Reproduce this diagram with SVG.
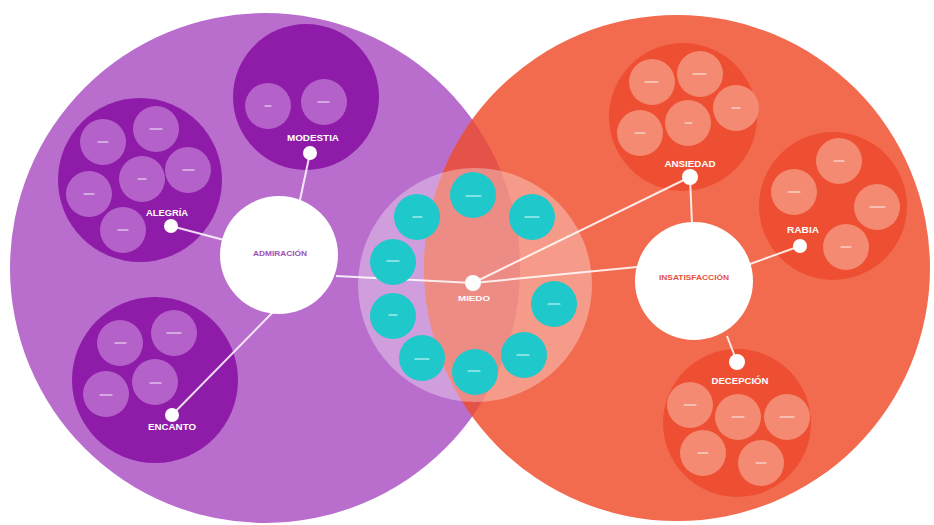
<svg xmlns="http://www.w3.org/2000/svg" width="934" height="525" viewBox="0 0 934 525">
<style>
.pbig{fill:#b96ecd}
.obig{fill:#f26b4f}
.pcl{fill:#8f1ca9}
.psm{fill:#b462c9}
.ocl{fill:#ee4f32}
.osm{fill:#f38a71}
.teal{fill:#1ec8cb}
.mk{stroke:#ffffff;stroke-width:1.1;stroke-opacity:0.9;stroke-linecap:round}
.dot{fill:#ffffff}
.lbl{fill:#ffffff;font-family:"Liberation Sans",Arial,sans-serif;font-weight:bold;font-size:9px;text-anchor:middle}
.hub{fill:#ffffff}
.conn{stroke:#ffffff;stroke-width:2;stroke-opacity:0.85;fill:none}
</style>
<defs>
<clipPath id="clipP"><circle cx="265" cy="268" r="255"/></clipPath>
</defs>
<rect width="934" height="525" fill="#ffffff"/>
<g id="backgrounds">
<circle class="pbig" cx="265" cy="268" r="255"/>
<circle class="obig" cx="677" cy="268" r="253"/>
<circle cx="677" cy="268" r="253" fill="#e4524a" clip-path="url(#clipP)"/>
<circle cx="475" cy="285" r="117" fill="#ffffff" fill-opacity="0.33"/>
</g>
<g id="alegria">
<circle class="pcl" cx="140" cy="180" r="82"/>
<circle class="psm" cx="103" cy="142" r="23"/>
<circle class="psm" cx="156" cy="129" r="23"/>
<circle class="psm" cx="142" cy="179" r="23"/>
<circle class="psm" cx="89" cy="194" r="23"/>
<circle class="psm" cx="188" cy="170" r="23"/>
<circle class="psm" cx="123" cy="230" r="23"/>
<line class="mk" x1="98" y1="142" x2="108" y2="142"/>
<line class="mk" x1="150" y1="129" x2="162" y2="129"/>
<line class="mk" x1="138" y1="179" x2="146" y2="179"/>
<line class="mk" x1="84" y1="194" x2="94" y2="194"/>
<line class="mk" x1="183" y1="170" x2="194" y2="170"/>
<line class="mk" x1="118" y1="230" x2="128" y2="230"/>
<circle class="dot" cx="171" cy="226" r="7"/>
<text class="lbl" x="167" y="216" textLength="42" lengthAdjust="spacingAndGlyphs">ALEGRÍA</text>
</g>
<g id="modestia">
<circle class="pcl" cx="306" cy="97" r="73"/>
<circle class="psm" cx="268" cy="106" r="23"/>
<circle class="psm" cx="324" cy="102" r="23"/>
<line class="mk" x1="265" y1="106" x2="271" y2="106"/>
<line class="mk" x1="318" y1="102" x2="329" y2="102"/>
<circle class="dot" cx="310" cy="153" r="7"/>
<text class="lbl" x="313" y="141" textLength="52" lengthAdjust="spacingAndGlyphs">MODESTIA</text>
</g>
<g id="encanto">
<circle class="pcl" cx="155" cy="380" r="83"/>
<circle class="psm" cx="120" cy="343" r="23"/>
<circle class="psm" cx="174" cy="333" r="23"/>
<circle class="psm" cx="106" cy="394" r="23"/>
<circle class="psm" cx="155" cy="382" r="23"/>
<line class="mk" x1="115" y1="343" x2="126" y2="343"/>
<line class="mk" x1="167" y1="333" x2="181" y2="333"/>
<line class="mk" x1="100" y1="395" x2="112" y2="395"/>
<line class="mk" x1="150" y1="383" x2="161" y2="383"/>
<circle class="dot" cx="172" cy="415" r="7"/>
<text class="lbl" x="172" y="430" textLength="48" lengthAdjust="spacingAndGlyphs">ENCANTO</text>
</g>
<g id="ansiedad">
<circle class="ocl" cx="683" cy="117" r="74"/>
<circle class="osm" cx="652" cy="82" r="23"/>
<circle class="osm" cx="700" cy="74" r="23"/>
<circle class="osm" cx="736" cy="108" r="23"/>
<circle class="osm" cx="688" cy="123" r="23"/>
<circle class="osm" cx="640" cy="133" r="23"/>
<line class="mk" x1="645" y1="82" x2="658" y2="82"/>
<line class="mk" x1="693" y1="74" x2="706" y2="74"/>
<line class="mk" x1="732" y1="108" x2="740" y2="108"/>
<line class="mk" x1="685" y1="123" x2="692" y2="123"/>
<line class="mk" x1="635" y1="133" x2="645" y2="133"/>
<circle class="dot" cx="690" cy="177" r="8"/>
<text class="lbl" x="690" y="167" textLength="51" lengthAdjust="spacingAndGlyphs">ANSIEDAD</text>
</g>
<g id="rabia">
<circle class="ocl" cx="833" cy="206" r="74"/>
<circle class="osm" cx="839" cy="161" r="23"/>
<circle class="osm" cx="794" cy="192" r="23"/>
<circle class="osm" cx="877" cy="207" r="23"/>
<circle class="osm" cx="846" cy="247" r="23"/>
<line class="mk" x1="834" y1="161" x2="844" y2="161"/>
<line class="mk" x1="788" y1="192" x2="800" y2="192"/>
<line class="mk" x1="870" y1="207" x2="885" y2="207"/>
<line class="mk" x1="841" y1="247" x2="851" y2="247"/>
<circle class="dot" cx="800" cy="246" r="7"/>
<text class="lbl" x="803" y="233" textLength="32" lengthAdjust="spacingAndGlyphs">RABIA</text>
</g>
<g id="decepcion">
<circle class="ocl" cx="737" cy="423" r="74"/>
<circle class="osm" cx="690" cy="405" r="23"/>
<circle class="osm" cx="738" cy="417" r="23"/>
<circle class="osm" cx="787" cy="417" r="23"/>
<circle class="osm" cx="703" cy="453" r="23"/>
<circle class="osm" cx="761" cy="463" r="23"/>
<line class="mk" x1="684" y1="405" x2="696" y2="405"/>
<line class="mk" x1="732" y1="417" x2="744" y2="417"/>
<line class="mk" x1="780" y1="417" x2="794" y2="417"/>
<line class="mk" x1="698" y1="453" x2="708" y2="453"/>
<line class="mk" x1="756" y1="463" x2="766" y2="463"/>
<circle class="dot" cx="737" cy="362" r="8"/>
<text class="lbl" x="740" y="384" textLength="57" lengthAdjust="spacingAndGlyphs">DECEPCIÓN</text>
</g>
<g id="connectors">
<line class="conn" x1="171" y1="226" x2="224" y2="240"/>
<line class="conn" x1="310" y1="153" x2="300" y2="200"/>
<line class="conn" x1="172" y1="415" x2="274" y2="311"/>
<line class="conn" x1="336" y1="276" x2="473" y2="283"/>
<line class="conn" x1="473" y1="283" x2="637" y2="267"/>
<line class="conn" x1="473" y1="283" x2="690" y2="177"/>
<line class="conn" x1="690" y1="177" x2="692" y2="224"/>
<line class="conn" x1="800" y1="246" x2="750" y2="264"/>
<line class="conn" x1="737" y1="362" x2="727" y2="336"/>
</g>
<g id="miedo-ring">
<circle class="teal" cx="473" cy="195" r="23"/>
<circle class="teal" cx="532" cy="217" r="23"/>
<circle class="teal" cx="417" cy="217" r="23"/>
<circle class="teal" cx="393" cy="262" r="23"/>
<circle class="teal" cx="393" cy="316" r="23"/>
<circle class="teal" cx="422" cy="358" r="23"/>
<circle class="teal" cx="475" cy="372" r="23"/>
<circle class="teal" cx="524" cy="355" r="23"/>
<circle class="teal" cx="554" cy="304" r="23"/>
<line class="mk" x1="466" y1="196" x2="481" y2="196"/>
<line class="mk" x1="525" y1="217" x2="539" y2="217"/>
<line class="mk" x1="413" y1="217" x2="422" y2="217"/>
<line class="mk" x1="387" y1="261" x2="399" y2="261"/>
<line class="mk" x1="389" y1="315" x2="397" y2="315"/>
<line class="mk" x1="415" y1="359" x2="429" y2="359"/>
<line class="mk" x1="468" y1="371" x2="480" y2="371"/>
<line class="mk" x1="517" y1="355" x2="529" y2="355"/>
<line class="mk" x1="548" y1="304" x2="560" y2="304"/>
</g>
<g id="admiracion">
<circle class="hub" cx="279" cy="255" r="59"/>
<text x="280" y="256" textLength="54" lengthAdjust="spacingAndGlyphs" style="fill:#9b4fb8;font-family:'Liberation Sans',Arial,sans-serif;font-weight:bold;font-size:7.5px;text-anchor:middle">ADMIRACIÓN</text>
</g>
<g id="insatisfaccion">
<circle class="hub" cx="694" cy="281" r="59"/>
<text x="694" y="280" textLength="70" lengthAdjust="spacingAndGlyphs" style="fill:#e4523c;font-family:'Liberation Sans',Arial,sans-serif;font-weight:bold;font-size:7.5px;text-anchor:middle">INSATISFACCIÓN</text>
</g>
<g id="miedo">
<circle class="dot" cx="473" cy="283" r="8"/>
<text class="lbl" x="474" y="301" textLength="32" lengthAdjust="spacingAndGlyphs" style="font-size:8px">MIEDO</text>
</g>
</svg>
